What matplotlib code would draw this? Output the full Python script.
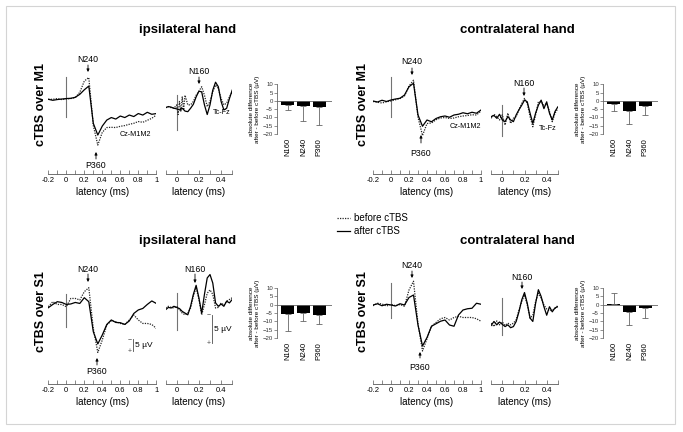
import matplotlib.pyplot as plt
from matplotlib.patches import Rectangle
from matplotlib.lines import Line2D

plt.rcParams['font.family'] = ['Liberation Sans', 'DejaVu Sans']

W, H = 683, 432

# latency samples (ms)
t_main = [-0.2, -0.15, -0.1, -0.05, 0.0, 0.05, 0.1, 0.15, 0.2, 0.25, 0.3, 0.35, 0.4,
          0.45, 0.5, 0.55, 0.6, 0.65, 0.7, 0.75, 0.8, 0.85, 0.9, 0.95, 1.0]
t_tc = [-0.1, -0.075, -0.05, -0.025, 0.0, 0.025, 0.05, 0.075, 0.1, 0.125, 0.15, 0.175, 0.2,
        0.225, 0.25, 0.275, 0.3, 0.325, 0.35, 0.375, 0.4, 0.425, 0.45, 0.475, 0.5]
t_tc_art = [-0.1, -0.075, -0.05, -0.025, 0.0, 0.0125, 0.025, 0.0375, 0.05, 0.0625, 0.075, 0.1,
            0.125, 0.15, 0.175, 0.2, 0.225, 0.25, 0.275, 0.3, 0.325, 0.35, 0.375, 0.4, 0.425,
            0.45, 0.475, 0.5]

# cTBS over M1, ipsilateral hand (uV, negative up)
m1_ipsi_cz_before = [0, 0, -0.3, 0.1, -0.1, -0.3, -0.7, -2.8, -7.3, -8.7, 10.5, 18.3, 13.2,
                     11.3, 11.2, 11.3, 10.8, 10.5, 10.0, 9.6, 8.9, 9.2, 8.4, 7.6, 6.3]
m1_ipsi_cz_after = [0, 0.4, 0.1, -0.1, -0.3, -0.4, -0.8, -2.0, -3.8, -5.3, 9.6, 14.3, 10.7,
                    8.3, 7.3, 7.9, 6.7, 7.3, 6.3, 6.9, 5.7, 6.3, 5.2, 6.0, 5.7]
m1_ipsi_tc_before = [0, -0.2, 0, 0.1, -0.5, 1.2, -1.1, 0.7, -1.9, 0.4, -2.2, -0.5, -0.5, -1.1,
                     -2.2, -2.9, -3.7, -2.2, -0.2, -1.1, -2.8, -4.0, -3.4, -1.6, -0.5, -0.8,
                     -1.9, -2.8]
m1_ipsi_tc_after = [0, -0.2, -0.1, 0.1, 0.2, 0.4, 0.1, 0.6, 0.7, 0.1, -0.6, -1.9, -2.9, -2.8,
                    -0.5, 1.2, -0.5, -3.1, -4.5, -3.7, -1.1, 0.4, 0.1, -1.6, -3.1]

# cTBS over M1, contralateral hand
m1_contra_cz_before = [0.2, 0.5, 0.8, 0.3, 0, -0.5, -1.0, -2.0, -6.0, -8.3, 6.5, 13.8, 9.0,
                       8.8, 7.5, 6.8, 6.6, 7.0, 6.8, 6.3, 6.0, 5.8, 5.5, 5.6, 4.0]
m1_contra_cz_after = [0, 0.4, -0.3, 0.2, -0.4, -0.8, -1.1, -2.4, -5.7, -7.1, 5.6, 10.1, 7.6,
                      8.3, 7.0, 6.3, 6.0, 6.5, 5.6, 5.3, 4.7, 5.1, 4.5, 4.9, 3.6]
m1_contra_tc_before = [0.1, -0.6, -0.2, 0.4, -0.5, 1.3, -0.8, 1.0, 0.1, -0.2, -1.4, -2.5, -3.4,
                       -2.5, -0.2, 1.6, -0.5, -2.8, -2.8, -2.2, -2.5, -1.1, 0.7, -0.8, -1.6]
m1_contra_tc_after = [-0.2, -0.4, 0.1, -0.6, 0.4, 0.7, -0.2, 0.4, 0.7, -0.5, -1.4, -2.2, -3.1,
                      -2.8, -0.8, 1.0, -0.8, -2.2, -3.1, -1.6, -2.8, -0.8, 0.4, -1.1, -1.9]

# cTBS over S1, ipsilateral hand
s1_ipsi_cz_before = [-0.4, -2.4, -1.3, -1.3, -0.4, -3.7, -3.7, -3.1, -6.4, -8.0, 8.3, 17.9,
                     12.9, 6.9, 5.3, 5.6, 6.3, 6.7, 4.9, 2.9, 4.9, 6.3, 6.3, 6.7, 8.3]
s1_ipsi_cz_after = [0, -1.3, -2.4, -2.1, -1.3, -1.5, -2.1, -1.7, -4.0, -2.4, 9.6, 14.5, 10.9,
                    6.7, 4.9, 5.9, 6.0, 6.7, 5.3, 2.3, 0.9, 0.3, -1.3, -2.7, -1.7]
s1_ipsi_tc_before = [0, -0.3, -0.1, 0, -0.3, 0.3, 0.9, 1.2, 0.9, 0, -2.1, -3.6, -1.5, 1.2,
                     -0.6, -2.6, -3.2, -2.4, 0, -0.1, -0.9, -0.5, -1.2, -1.5, -1.8]
s1_ipsi_tc_after = [0.3, -0.1, 0, -0.3, -0.1, 0.1, 0.6, 0.9, 1.2, -0.3, -2.4, -4.0, -1.8, 0.9,
                    -2.4, -5.3, -5.9, -4.4, -0.9, -0.3, -0.7, -0.3, -1.2, -0.9, -1.5]

# cTBS over S1, contralateral hand
s1_contra_cz_before = [0.3, -0.7, -0.4, 0.4, -0.3, 0.3, -0.2, 0.5, -6.0, -9.5, 7.5, 18.4,
                       13.5, 8.5, 7.0, 5.5, 5.0, 6.0, 5.0, 4.5, 5.0, 5.0, 5.0, 5.5, 6.5]
s1_contra_cz_after = [0, -0.5, 0.3, -0.3, 0, 0.4, -0.5, 0, -3.0, -4.0, 8.0, 16.4, 13.0, 8.5,
                      7.5, 6.5, 6.0, 8.0, 8.5, 4.0, 2.0, 1.5, 1.3, -0.7, -0.3]
s1_contra_tc_before = [-0.2, 0.4, -0.6, 0.1, -0.4, 0.2, -0.2, 0.1, -0.2, -0.8, -2.5, -4.0,
                       -5.2, -3.4, -1.1, -1.6, -4.0, -5.5, -4.6, -3.4, -2.7, -2.4, -2.5, -2.8,
                       -3.3]
s1_contra_tc_after = [0.2, -0.5, 0.1, -0.4, 0, 0.4, 0.1, 0.6, 0.4, -0.5, -2.2, -4.3, -5.6,
                      -3.7, -1.1, -0.5, -3.7, -6.1, -4.9, -3.1, -1.6, -3.1, -2.2, -2.9, -3.1]

# after - before differences (uV) and error bar lengths
components = ['N160', 'N240', 'P360']
m1_ipsi_diff, m1_ipsi_err = [-2.5, -3.2, -3.7], [2.8, 9.0, 10.9]
m1_contra_diff, m1_contra_err = [-1.8, -6.0, -3.0], [4.4, 8.0, 5.3]
s1_ipsi_diff, s1_ipsi_err = [-5.6, -4.8, -6.4], [10.4, 4.8, 5.0]
s1_contra_diff, s1_contra_err = [0.6, -4.5, -2.0], [6.2, 7.5, 5.8]

fig = plt.figure(figsize=(W / 100, H / 100), dpi=100)

DOT = dict(color='0.15', lw=0.9, ls=(0, (1, 1)))
SOL = dict(color='black', lw=0.9)


def wave_axes(x_zero, px_ms, xlim, y_axis, base, gain, ticks, minor):
    left = x_zero + xlim[0] * px_ms
    right = x_zero + xlim[1] * px_ms
    top = y_axis - 125
    ax = fig.add_axes([left / W, 1 - y_axis / H, (right - left) / W, (y_axis - top) / H])
    ax.set_xlim(xlim)
    ax.set_ylim((y_axis - base) / gain, (top - base) / gain)
    for s in ['top', 'right', 'left']:
        ax.spines[s].set_visible(False)
    ax.spines['bottom'].set_color('0.35')
    ax.spines['bottom'].set_linewidth(0.6)
    ax.yaxis.set_visible(False)
    ax.patch.set_alpha(0)
    ax.set_xticks(ticks)
    ax.set_xticklabels(['%g' % v for v in ticks])
    ax.set_xticks(minor, minor=True)
    ax.tick_params(axis='x', which='both', direction='in', length=3, width=0.5,
                   color='0.35', labelsize=5.5, pad=2)
    ax.set_xlabel('latency (ms)', fontsize=7, labelpad=2)
    return ax


def bar_axes(x_axis, y10, y_20, diff, err):
    ax = fig.add_axes([x_axis / W, 1 - y_20 / H, 55 / W, (y_20 - y10) / H])
    x = [0, 1, 2]
    ax.bar(x, diff, width=0.8, color='black')
    lower = [e if d < 0 else 0 for d, e in zip(diff, err)]
    upper = [e if d >= 0 else 0 for d, e in zip(diff, err)]
    ax.errorbar(x, diff, yerr=[lower, upper], fmt='none', ecolor='0.4', elinewidth=0.6,
                capsize=2, capthick=0.6)
    ax.axhline(0, color='0.4', lw=0.6)
    ax.set_xlim(-0.68, 2.81)
    ax.set_ylim(-20, 10)
    ax.set_yticks([10, 5, 0, -5, -10, -15, -20])
    ax.set_xticks(x)
    ax.set_xticklabels(components, rotation=90)
    for s in ['top', 'right', 'bottom']:
        ax.spines[s].set_visible(False)
    ax.spines['left'].set_color('0.4')
    ax.spines['left'].set_linewidth(0.6)
    ax.tick_params(axis='y', length=2, width=0.5, color='0.4', labelsize=4.3, pad=1,
                   labelcolor='0.2')
    ax.tick_params(axis='x', length=0, labelsize=5.5, pad=3)
    ax.set_ylabel('absolute difference\nafter - before cTBS (\u00b5V)', fontsize=4.6,
                  labelpad=2, linespacing=1.1)
    ax.patch.set_alpha(0)
    return ax


quads = [
    dict(ya=174, bm=99.3, bt=107.7, xm=66.3, xt=176.7, bars=(277, 84.3, 134),
         cz=(m1_ipsi_cz_before, m1_ipsi_cz_after), tc=(m1_ipsi_tc_before, m1_ipsi_tc_after),
         tc_t=t_tc_art, stim_m=(-9, 7), stim_t=(-2.2, 3.9),
         diff=(m1_ipsi_diff, m1_ipsi_err)),
    dict(ya=174, bm=101, bt=117.7, xm=391, xt=502.3, bars=(603, 84.3, 134),
         cz=(m1_contra_cz_before, m1_contra_cz_after),
         tc=(m1_contra_tc_before, m1_contra_tc_after), tc_t=t_tc,
         stim_m=(-9.7, 6.3), stim_t=(-2.2, 3.2), diff=(m1_contra_diff, m1_contra_err)),
    dict(ya=384, bm=307.7, bt=308, xm=66.3, xt=176.7, bars=(277, 288, 338),
         cz=(s1_ipsi_cz_before, s1_ipsi_cz_after), tc=(s1_ipsi_tc_before, s1_ipsi_tc_after),
         tc_t=t_tc, stim_m=(-5.5, 7.7), stim_t=(-2.6, 3.9), diff=(s1_ipsi_diff, s1_ipsi_err)),
    dict(ya=384, bm=305, bt=324.3, xm=391, xt=502.3, bars=(603, 288, 338),
         cz=(s1_contra_cz_before, s1_contra_cz_after),
         tc=(s1_contra_tc_before, s1_contra_tc_after), tc_t=t_tc,
         stim_m=(-8.8, 5.2), stim_t=(-4.6, 1.9), diff=(s1_contra_diff, s1_contra_err)),
]

axes = []
for q in quads:
    am = wave_axes(q['xm'], 90, (-0.2, 1.0), q['ya'], q['bm'], 2.5,
                   [-0.2, 0, 0.2, 0.4, 0.6, 0.8, 1.0], [-0.1, 0.1, 0.3, 0.5, 0.7, 0.9])
    am.plot([0, 0], q['stim_m'], color='0.45', lw=0.8)
    am.plot(t_main, q['cz'][0], **DOT)
    am.plot(t_main, q['cz'][1], **SOL)
    at = wave_axes(q['xt'], 111, (-0.1, 0.5), q['ya'], q['bt'], 5.67,
                   [0, 0.2, 0.4], [-0.1, 0.1, 0.3, 0.5])
    at.plot([0, 0], q['stim_t'], color='0.45', lw=0.8)
    at.plot(q['tc_t'], q['tc'][0], **DOT)
    at.plot(t_tc, q['tc'][1], **SOL)
    bar_axes(*q['bars'], *q['diff'])
    axes.append((am, at))

# scale bars (ipsilateral, S1)
am, at = axes[2]
am.plot([0.74, 0.74], [12.5, 17.5], color='0.3', lw=0.6)
am.text(0.70, 13.0, '\u2212', fontsize=5, ha='center', va='center', color='0.3')
am.text(0.70, 17.6, '+', fontsize=5, ha='center', va='center', color='0.3')
am.text(0.765, 15.0, '5 \u00b5V', fontsize=6, va='center')
at.plot([0.315, 0.315], [1.2, 6.2], color='0.3', lw=0.6)
at.text(0.285, 1.4, '\u2212', fontsize=5, ha='center', va='center', color='0.3')
at.text(0.285, 6.3, '+', fontsize=5, ha='center', va='center', color='0.3')
at.text(0.335, 3.8, '5 \u00b5V', fontsize=6, va='center')

# text overlay in reference pixels
ov = fig.add_axes([0, 0, 1, 1])
ov.set_xlim(0, W)
ov.set_ylim(H, 0)
ov.axis('off')
ov.add_patch(Rectangle((6, 6), 669, 418, fill=False, edgecolor='#d4d4d4', lw=0.8))

for x, y, s in [(188, 30, 'ipsilateral hand'), (517, 30, 'contralateral hand'),
                (188, 241, 'ipsilateral hand'), (517, 241, 'contralateral hand')]:
    ov.text(x, y, s, fontsize=9.5, fontweight='bold', ha='center', va='center')
for x, y, s in [(41, 104, 'cTBS over M1'), (363, 104, 'cTBS over M1'),
                (41, 312, 'cTBS over S1'), (363, 312, 'cTBS over S1')]:
    ov.text(x, y, s, fontsize=9, fontweight='bold', ha='center', va='center', rotation=90)

for x, y, s in [(135, 135, 'Cz-M1M2'), (465, 127, 'Cz-M1M2'),
                (222, 112, 'Tc-Fz'), (548, 129, 'Tc-Fz')]:
    ov.text(x, y, s, fontsize=5.2, ha='center', va='center')

peaks = [
    ('N240', 88, 60, 65, 72), ('P360', 96, 165, 159, 152), ('N160', 199, 71, 77, 84),
    ('N240', 412, 62, 68, 75), ('P360', 421, 154, 143, 135), ('N160', 524, 83, 88, 96),
    ('N240', 88, 269, 274, 282), ('P360', 97, 371, 365, 358), ('N160', 195, 269, 274, 283),
    ('N240', 412, 265, 271, 278), ('P360', 420, 367, 358, 352), ('N160', 522, 277, 282, 289),
]
for s, x, ty, tail, tip in peaks:
    ov.text(x, ty, s, fontsize=6.3, ha='center', va='center')
    ov.annotate('', xy=(x, tip), xytext=(x, tail),
                arrowprops=dict(arrowstyle='-|>', lw=0.6, color='black', mutation_scale=4,
                                shrinkA=0, shrinkB=0))

handles = [Line2D([], [], **DOT), Line2D([], [], **SOL)]
fig.legend(handles, ['before cTBS', 'after cTBS'], loc='upper left',
           bbox_to_anchor=(337 / W, 1 - 213 / H), frameon=False, fontsize=7,
           handlelength=1.3, handletextpad=0.4, labelspacing=0.3, borderpad=0,
           borderaxespad=0)

fig.savefig('out.png', dpi=100)
